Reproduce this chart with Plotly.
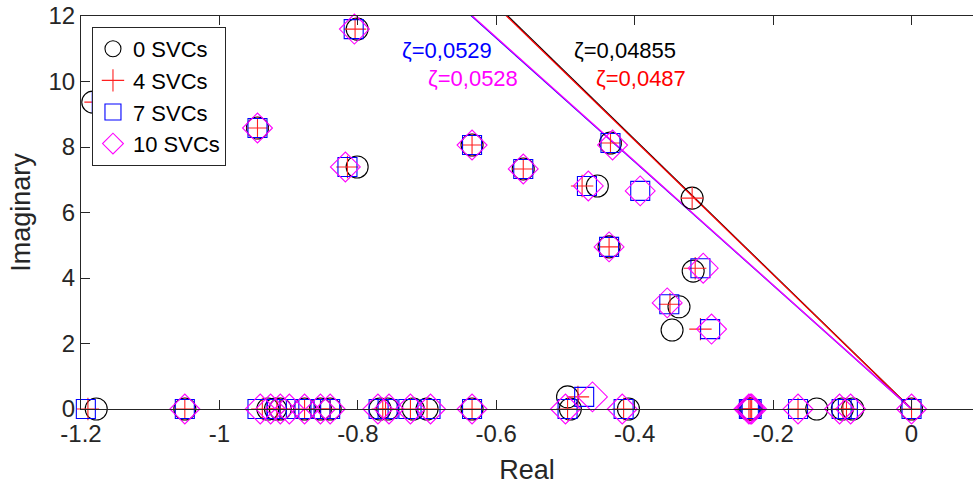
import math
import plotly.graph_objects as go

# ---------------- data ----------------
# 0 SVCs (circles)
re_0 = [-0.801, -1.183, -0.945, -0.801, -0.635, -0.561, -0.454, -0.435, -0.317, -0.437,
        -0.3155, -0.336, -0.346, -0.497,
        -1.178, -1.050, -0.930, -0.919, -0.912, -0.877, -0.854, -0.840,
        -0.768, -0.757, -0.720, -0.700, -0.635, -0.493, -0.409,
        -0.235, -0.233, -0.231, -0.137, -0.100, -0.085, 0.0]
im_0 = [11.6, 9.37, 8.58, 7.39, 8.06, 7.33, 6.81, 8.12, 6.44, 4.95,
        4.21, 3.12, 2.41, 0.37,
        0, 0, 0, 0, 0, 0, 0, 0,
        0, 0, 0, 0, 0, 0, 0,
        0, 0, 0, 0, 0, 0, 0]

# 4 SVCs (plus)
re_4 = [-0.804, -1.179, -0.945, -0.815, -0.635, -0.561, -0.476, -0.435, -0.317, -0.437,
        -0.3126, -0.349, -0.305, -0.482,
        -1.190, -1.050, -0.938, -0.917, -0.912, -0.877, -0.854, -0.840,
        -0.764, -0.760, -0.724, -0.700, -0.635, -0.497, -0.416,
        -0.235, -0.233, -0.231, -0.164, -0.099, -0.094, 0.0]
im_4 = [11.6, 9.37, 8.58, 7.39, 8.06, 7.33, 6.81, 8.12, 6.44, 4.95,
        4.30, 3.20, 2.44, 0.37,
        0, 0, 0, 0, 0, 0, 0, 0,
        0, 0, 0, 0, 0, 0, 0,
        0, 0, 0, 0, 0, 0, 0]

# 7 SVCs (squares)
re_7 = [-0.806, -1.170, -0.945, -0.815, -0.635, -0.561, -0.469, -0.435, -0.392, -0.437,
        -0.305, -0.350, -0.291, -0.473,
        -1.193, -1.050, -0.945, -0.917, -0.899, -0.877, -0.854, -0.840,
        -0.770, -0.757, -0.727, -0.695, -0.635, -0.497, -0.416,
        -0.235, -0.233, -0.231, -0.164, -0.101, -0.092, 0.0]
im_7 = [11.6, 9.37, 8.58, 7.39, 8.06, 7.33, 6.81, 8.12, 6.66, 4.95,
        4.30, 3.20, 2.44, 0.37,
        0, 0, 0, 0, 0, 0, 0, 0,
        0, 0, 0, 0, 0, 0, 0,
        0, 0, 0, 0, 0, 0, 0]

# 10 SVCs (diamonds)
re_10 = [-0.805, -1.162, -0.945, -0.818, -0.635, -0.561, -0.467, -0.432, -0.392, -0.437,
         -0.301, -0.353, -0.289, -0.461,
         -1.050, -0.941, -0.926, -0.912, -0.899, -0.877, -0.854, -0.840,
         -0.771, -0.755, -0.724, -0.695, -0.635, -0.500, -0.418,
         -0.235, -0.233, -0.231, -0.164, -0.104, -0.088, 0.0]
im_10 = [11.6, 9.37, 8.58, 7.39, 8.06, 7.33, 6.81, 8.06, 6.66, 4.95,
         4.30, 3.24, 2.44, 0.37,
         0, 0, 0, 0, 0, 0, 0, 0,
         0, 0, 0, 0, 0, 0, 0,
         0, 0, 0, 0, 0, 0, 0]

# damping ratio lines
zeta_vals = [0.04855, 0.0487, 0.0529, 0.0528]
zeta_labels = ["ζ=0,04855", "ζ=0,0487", "ζ=0,0529", "ζ=0,0528"]
zeta_colors = ["#000000", "#ff0000", "#0000ff", "#ff00ff"]

x_tickvals = [-1.2, -1.0, -0.8, -0.6, -0.4, -0.2, 0.0]
x_ticktext = ["-1.2", "-1", "-0.8", "-0.6", "-0.4", "-0.2", "0"]
y_tickvals = [0, 2, 4, 6, 8, 10, 12]
y_ticktext = ["0", "2", "4", "6", "8", "10", "12"]

FONT = "Liberation Sans, Arial, Helvetica, sans-serif"
AX = "#262626"

fig = go.Figure()

# damping lines (from origin up to beyond the top of the y range, clipped)
for z, c in zip(zeta_vals, zeta_colors):
    ytop = 12.5
    xtop = -ytop * z / math.sqrt(1 - z * z)
    fig.add_trace(go.Scatter(x=[0, xtop], y=[0, ytop], mode="lines",
                             line=dict(color=c, width=1.3), showlegend=False,
                             hoverinfo="skip", cliponaxis=True))

series = [
    ("0 SVCs", re_0, im_0, "circle-open", "#000000", 22),
    ("4 SVCs", re_4, im_4, "cross-thin-open", "#ff2020", 16),
    ("7 SVCs", re_7, im_7, "square-open", "#0000ff", 19),
    ("10 SVCs", re_10, im_10, "diamond-open", "#ff00ff", 23),
]
for name, xs, ys, sym, col, sz in series:
    fig.add_trace(go.Scatter(x=xs, y=ys, mode="markers", name=name,
                             marker=dict(symbol=sym, size=sz, color=col,
                                         line=dict(color=col, width=1.1)),
                             cliponaxis=False))

# zeta annotations
ann_pos = [(-0.414, 10.96), (-0.391, 10.10), (-0.671, 10.96), (-0.633, 10.10)]
for (ax_, ay_), txt, c in zip(ann_pos, zeta_labels, zeta_colors):
    fig.add_annotation(x=ax_, y=ay_, xref="x", yref="y", text=txt, showarrow=False,
                       font=dict(family=FONT, size=22, color=c))

fig.update_layout(
    width=973, height=492,
    margin=dict(l=81, r=0, t=16, b=83),
    paper_bgcolor="white", plot_bgcolor="white",
    font=dict(family=FONT, size=24, color=AX),
    showlegend=True,
    legend=dict(x=0.0123, y=0.972, xanchor="left", yanchor="top",
                bgcolor="white", bordercolor=AX, borderwidth=1,
                font=dict(family=FONT, size=22, color="#000000"),
                itemsizing="trace", tracegroupgap=0),
)
fig.update_xaxes(range=[-1.2, 0.0888], tickvals=x_tickvals, ticktext=x_ticktext,
                 showline=True, linecolor=AX, linewidth=1, mirror="ticks",
                 ticks="inside", ticklen=9, tickcolor=AX, showgrid=False, zeroline=False,
                 tickfont=dict(family=FONT, size=24, color=AX), ticklabelstandoff=3,
                 title=dict(text="Real", font=dict(family=FONT, size=27, color=AX), standoff=14))
fig.update_yaxes(range=[0, 12], tickvals=y_tickvals, ticktext=y_ticktext,
                 showline=True, linecolor=AX, linewidth=1, mirror=False,
                 ticks="inside", ticklen=9, tickcolor=AX, showgrid=False, zeroline=False,
                 tickfont=dict(family=FONT, size=24, color=AX),
                 title=dict(text="Imaginary", font=dict(family=FONT, size=27, color=AX), standoff=10))

fig.write_html("out.html", config={"displayModeBar": False},
               post_script="document.body.style.margin='0';document.body.style.overflow='hidden';")
